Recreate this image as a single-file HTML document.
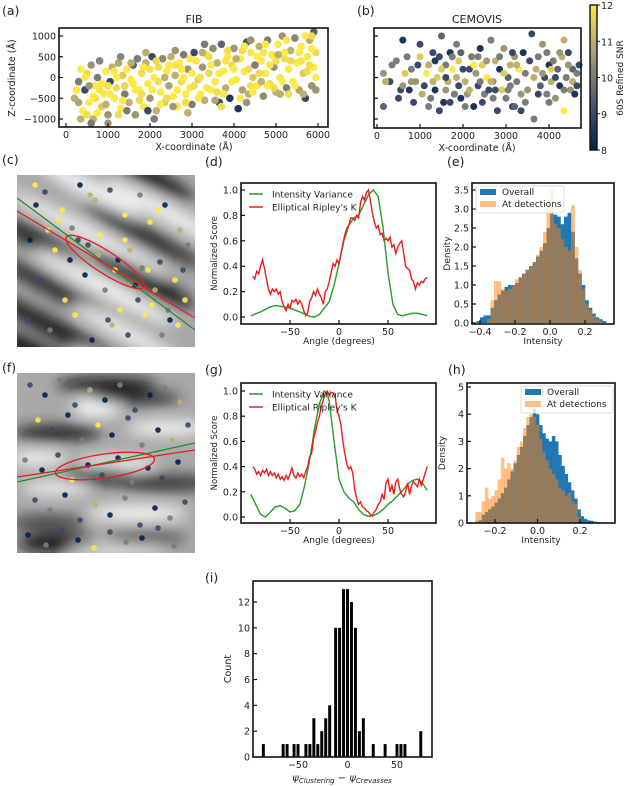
<!DOCTYPE html>
<html><head><meta charset="utf-8">
<style>
html,body{margin:0;padding:0;background:#fff;}
svg{display:block;font-family:"DejaVu Sans","Liberation Sans",sans-serif;}
</style></head>
<body>
<svg id="fig" width="624" height="786" viewBox="0 0 624 786" xmlns="http://www.w3.org/2000/svg">
<defs>
<linearGradient id="cividis" x1="0" y1="1" x2="0" y2="0">
<stop offset="0" stop-color="#00224E"/><stop offset="0.25" stop-color="#3A486B"/><stop offset="0.5" stop-color="#7B7B78"/><stop offset="0.75" stop-color="#BCAF6F"/><stop offset="1" stop-color="#FDE945"/>
</linearGradient>
<filter id="blur" x="-50%" y="-50%" width="200%" height="200%"><feGaussianBlur stdDeviation="7"/></filter>
<clipPath id="clipC"><rect x="17" y="175" width="178" height="172"/></clipPath>
<clipPath id="clipF"><rect x="17" y="373" width="178" height="180"/></clipPath>
</defs>
</svg>
<script>
// ---------- data ----------
const fibX=[200,300,350,400,450,500,550,600,650,700,750,800,850,900,950,1000,1050,1100,1150,1200,1250,1300,1350,1400,1450,1500,1550,1600,1650,1700,1750,1800,1850,1900,1950,2000,2050,2100,2150,2200,2250,2300,2350,2400,2450,2500,2550,2600,2650,2700,2750,2800,2850,2900,2950,3000,3050,3100,3150,3200,3250,3300,3350,3400,3450,3500,3550,3600,3650,3700,3750,3800,3850,3900,3950,4000,4050,4100,4150,4200,4250,4300,4350,4400,4450,4500,4550,4600,4650,4700,4750,4800,4850,4900,4950,5000,5050,5100,5150,5200,5250,5300,5350,5400,5450,5500,5550,5600,5650,5700,5750,5800,5850,5900,5950,5900,5700,5300,4800,4200,3600,3000,2400,1800,1200,700,500,300,1600,2200,2800,3400,4000,4600,5200,5800,1000,1400,2600,3800,4400,5000,5600,800,2000,3200,4700];
const fibZ=[-500,-100,200,-800,-300,100,-600,300,-1000,-200,0,400,-700,-400,150,-900,-100,250,-500,-250,350,-750,50,-400,200,-600,-50,300,-900,450,-300,100,-700,350,-150,-500,500,0,-800,250,-350,450,-600,150,-200,500,-450,50,-700,350,-100,550,-400,200,-250,-650,600,400,-50,-400,250,-550,550,100,-300,700,-100,350,-600,800,150,-250,500,-500,300,700,-50,-750,450,-300,150,850,-400,600,0,300,-200,750,400,-450,100,900,-150,550,250,-350,800,0,1000,450,-250,200,650,-100,950,350,-300,750,100,-500,500,900,-200,250,600,1100,1000,-400,-200,650,-350,100,-500,-400,0,-500,-900,-600,-150,-100,0,500,200,100,600,300,-200,-200,300,400,-200,400,400,-300,200,0,600];
const fibS=[11,10,12,12,9,11.8,12,10.5,11,12,10,10.2,11.5,12,12,10.5,9,11,12,11.8,10.8,12,11.5,10,12,11,12,9.5,10.5,10,12,11.8,12,11,12,10.5,9,12,11,11.8,12,10.3,11.5,12,10.8,11,12,11,12,12,11.8,10,12,10.5,12,10,9,12,11.5,12,10.5,11,12,11.8,12,10.3,12,11,9,9.5,12,11,12,8.5,11.8,10.5,12,8.5,12,10.8,12,9.3,11,12,11.5,10,12,11,12,10.3,12,10,11.8,12,10.5,11,12,12,10.5,11.8,10,12,11,12,10.2,12,10.8,12,11.5,9,12,11,10.5,12,11.8,9.5,12,11.8,12,11.8,11.8,12,11.8,11.8,12,11.8,11.8,10.8,12,11.8,12,11.8,12,11.8,12,11.8,11.9,11.7,11.9,11.9,11.9,11.9,11.9,11.9,11.9,11.9,11.9];
const fibX2=[250,350,450,550,650,750,850,950,1050,1150,1250,1350,1450,1550,1650,1750,1850,1950,2050,2150,2250,2350,2450,2550,2650,2750,2850,2950,3050,3150,3250,3350,3450,3550,3650,3750,3850,3950,4050,4150,4250,4350,4450,4550,4650,4750,4850,4950,5050,5150,5250,5350,5450,5550,5650,5750,5850,5950,5950,5850,4400,3300,2600,1900,1300,600,5100,4300,3700,2900,2100,1000];
const fibZ2=[-300,-1000,0,-200,-450,-850,-150,-650,-400,150,-900,-550,-800,350,-300,-550,250,-800,-300,400,-650,0,300,-700,-300,200,-600,450,-200,-500,600,-250,300,-550,100,-400,650,-100,450,-500,750,200,-350,500,-100,800,300,-250,550,-100,900,400,-200,600,-400,150,700,0,-300,1000,900,800,650,600,500,-1100,-400,-600,-700,-850,-1000,-1100];
const fibS2=[12,11,12,10.5,12,12,12,11,12,12,11.8,12,10,11,12,11.8,12,9,12,11.8,12,11,12,10.5,12,12,11.8,12,11.8,12,11,12,12,10.8,12,12,11.8,12,11,12,12,11.8,12,12,11,12,12,11.8,11,12,12,11.8,12,12,11,11.8,12,12,10.5,11.8,10.5,10,10.5,11,10.2,10,11,10.5,11.8,11,10,10.5];
const cemX=[150,150,300,450,550,600,750,800,900,1000,1000,1100,1200,1250,1300,1350,1400,1450,1500,1550,1600,1650,1700,1750,1800,1850,1900,1950,2000,2050,2100,2200,2250,2300,2350,2400,2450,2500,2550,2600,2650,2700,2750,2800,2850,2900,2950,3000,3050,3100,3150,3200,3250,3300,3350,3400,3450,3500,3600,3650,3700,3750,3800,3850,3900,3950,4000,4050,4100,4150,4200,4250,4300,4350,4350,4400,4450,4500,4550,4600,4650,4700,1350,2150,3100,600,1900,2700];
const cemZ=[-700,100,-100,400,-300,900,-300,200,-100,800,500,-200,300,-500,600,-300,0,-800,1000,-600,300,-100,600,200,-400,800,-200,-500,200,-100,-400,500,-700,100,-200,700,300,-400,0,-300,900,-100,400,-800,200,-300,700,-500,0,300,-700,500,-100,200,-800,600,100,-300,1050,-1000,200,500,-200,800,0,-400,300,-100,400,-500,200,-200,500,-800,900,0,600,-300,200,-400,100,300,400,200,-200,-200,400,-500];
const cemS=[9.5,10.5,9,10,9,8.5,8.5,10,10.5,9,11.5,9,11,10,9,8.5,11.5,9,9.5,8.5,10,11,8.5,12,10,10,9,8.5,9,11,10.5,10,8.5,10.5,9,8.5,11.5,10,12,9,10,10.5,11,9,8.5,11.5,10.5,10,9.5,11,9,10.5,10,12,9,8.5,10,10.5,9,10,11,10,9.5,10.5,9,10,8.5,11,10,10.5,9.5,8.5,11,12,11,10,9,10.5,9.5,8.5,10,9,8.5,9,10,10.5,11.5,10];
const cemX2=[200,350,500,650,700,850,950,1050,1150,1200,1300,1450,1500,1600,1700,1750,1850,1950,2050,2150,2250,2350,2450,2550,2650,2750,2850,2950,3050,3150,3250,3350,3450,3550,3650,3750,3850,3950,4050,4150,4250,4350,4450,4550,4650,4000,3200,2400,1600,800];
const cemZ2=[-100,300,-500,100,500,-600,300,-400,100,-700,-100,500,200,-300,-600,500,0,600,-700,-300,300,500,-600,400,-100,-300,500,100,-300,600,300,-400,-600,400,0,-400,100,600,200,0,600,-300,300,-100,-200,-600,-700,-100,0,-100];
const cemS2=[11,10,9,11.5,10,9,9,11,12,10,11,9,11.5,10.5,9,10,11,9.5,10,11,12,10,9,10.5,11,9,10,11.5,10,9,11,10.5,10,9,11,9,10.5,10,11.5,9,10.5,10,10.5,11,9,10,9.5,10,9,10.5];
const xTicksA=[0,1000,2000,3000,4000,5000,6000];
const xTicksB=[0,1000,2000,3000,4000];
const zTicks=[1000,500,0,-500,-1000];
const cbTicks=[8,9,10,11,12];

const angTicks=[-50,0,50];
const scoreTicks=[0.0,0.2,0.4,0.6,0.8,1.0];
const dGreenA=[-90,-80,-70,-65,-60,-50,-40,-30,-25,-20,-10,-5,0,5,10,15,20,25,30,35,40,45,50,55,60,65,70,75,80,85,90];
const dGreenV=[0.01,0.04,0.08,0.09,0.085,0.07,0.04,0.005,0.0,0.02,0.12,0.25,0.42,0.6,0.72,0.78,0.8,0.88,0.96,1.0,0.95,0.7,0.35,0.1,0.02,0.01,0.02,0.03,0.03,0.02,0.01];
const dRedA=[-88,-86,-84,-82,-80,-78,-76,-74,-72,-70,-68,-66,-64,-62,-60,-58,-56,-54,-52,-50,-48,-46,-44,-42,-40,-38,-36,-34,-32,-30,-28,-26,-24,-22,-20,-18,-16,-14,-12,-10,-8,-6,-4,-2,0,2,4,6,8,10,12,14,16,18,20,22,24,26,28,30,32,34,36,38,40,42,44,46,48,50,52,54,56,58,60,62,64,66,68,70,72,74,76,78,80,82,84,86,88,90];
const dRedV=[0.32,0.3,0.36,0.34,0.4,0.45,0.38,0.3,0.22,0.18,0.22,0.2,0.22,0.18,0.2,0.12,0.08,0.05,0.1,0.07,0.13,0.12,0.14,0.1,0.13,0.1,0.05,0.01,0.03,0.12,0.15,0.2,0.17,0.22,0.18,0.15,0.1,0.2,0.22,0.28,0.35,0.42,0.4,0.45,0.42,0.5,0.58,0.65,0.7,0.72,0.78,0.78,0.76,0.8,0.78,0.9,0.95,0.92,0.98,1.0,0.92,0.82,0.75,0.7,0.72,0.65,0.66,0.6,0.62,0.6,0.63,0.55,0.57,0.5,0.55,0.58,0.6,0.5,0.4,0.38,0.37,0.3,0.28,0.22,0.27,0.25,0.28,0.27,0.3,0.31];
const gGreenA=[-90,-85,-80,-75,-70,-65,-60,-55,-50,-45,-40,-35,-30,-25,-20,-15,-12,-10,-5,0,5,10,15,20,25,30,35,40,45,50,55,60,65,70,75,80,85,90];
const gGreenV=[0.18,0.1,0.02,0.0,0.04,0.08,0.09,0.07,0.04,0.05,0.1,0.25,0.45,0.7,0.9,1.0,0.98,0.92,0.6,0.3,0.2,0.15,0.12,0.06,0.02,0.005,0.01,0.03,0.06,0.1,0.13,0.17,0.21,0.26,0.29,0.3,0.27,0.21];
const gRedA=dRedA;
const gRedV=[0.4,0.38,0.34,0.36,0.33,0.37,0.35,0.38,0.33,0.36,0.33,0.35,0.31,0.34,0.3,0.32,0.29,0.33,0.3,0.34,0.39,0.33,0.31,0.35,0.32,0.34,0.31,0.36,0.4,0.48,0.5,0.62,0.68,0.75,0.8,0.88,0.93,0.98,1.0,0.97,0.99,0.98,0.96,0.85,0.8,0.73,0.6,0.5,0.42,0.38,0.4,0.35,0.22,0.15,0.1,0.12,0.08,0.07,0.05,0.04,0.02,0.01,0.04,0.06,0.1,0.12,0.18,0.14,0.27,0.3,0.2,0.25,0.18,0.28,0.3,0.22,0.18,0.16,0.2,0.27,0.18,0.25,0.28,0.26,0.24,0.3,0.25,0.3,0.35,0.4];

const eBins=[-0.41,-0.39,-0.37,-0.35,-0.33,-0.31,-0.29,-0.27,-0.25,-0.23,-0.21,-0.19,-0.17,-0.15,-0.13,-0.11,-0.09,-0.07,-0.05,-0.03,-0.01,0.01,0.03,0.05,0.07,0.09,0.11,0.13,0.15,0.17,0.19,0.21,0.23,0.25,0.27,0.29,0.31];
const eBlue=[0.05,0.15,0.2,0.2,0.4,0.6,0.75,0.85,0.95,1.0,1.0,1.05,1.2,1.3,1.4,1.5,1.6,1.75,1.9,2.1,2.5,2.9,2.85,2.8,2.6,2.8,2.9,2.4,1.7,1.3,1.0,0.6,0.4,0.25,0.15,0.1,0.05];
const eOrange=[0,0,0,0.1,0.6,1.1,1.1,0.9,0.85,0.9,1.0,1.15,1.2,1.3,1.4,1.5,1.6,1.8,2.0,2.4,3.0,3.5,2.6,2.5,2.2,2.0,1.9,3.1,2.0,1.4,0.9,0.5,0.35,0.2,0.1,0.05,0];
const eXTicks=[-0.4,-0.2,0.0,0.2];
const eYTicks=[0.0,0.5,1.0,1.5,2.0,2.5,3.0,3.5];
const hBins=[-0.3,-0.285,-0.27,-0.255,-0.24,-0.225,-0.21,-0.195,-0.18,-0.165,-0.15,-0.135,-0.12,-0.105,-0.09,-0.075,-0.06,-0.045,-0.03,-0.015,0,0.015,0.03,0.045,0.06,0.075,0.09,0.105,0.12,0.135,0.15,0.165,0.18,0.195,0.21,0.225,0.24,0.255,0.27,0.285,0.3,0.315];
const hBlue=[0.02,0.05,0.1,0.3,0.4,0.5,0.6,0.75,0.9,1.1,1.3,1.6,1.9,2.2,2.5,2.8,3.2,3.6,3.9,4.2,4.0,3.6,3.3,3.1,3.0,3.2,3.0,2.5,2.1,1.8,1.5,1.2,0.9,0.5,0.25,0.15,0.1,0.08,0.05,0.03,0.02,0.01];
const hOrange=[0,0.4,0.4,0.8,1.3,0.9,1.0,1.2,1.6,2.4,2.0,2.2,2.0,2.3,2.8,3.0,3.5,3.9,4.0,3.9,3.6,3.1,2.6,2.3,2.0,1.8,1.6,1.3,1.2,1.0,1.1,0.8,0.7,0.2,0,0,0,0,0,0,0,0];
const hXTicks=[-0.2,0.0,0.2];
const hYTicks=[0,1,2,3,4,5];
const iCenters=[-85,-65,-61,-54,-50,-42,-38,-34,-30,-26,-22,-18,-12,-8,-4,0,4,8,12,16,26,38,50,54,58,74];
const iCounts=[1,1,1,1,1,1,1,3,1,2,3,4,10,10,13,13,12,10,2,3,1,1,1,1,1,2];
const iXTicks=[-50,0,50];
const iYTicks=[0,2,4,6,8,10,12];

// decorative detections over images (panel coords)
const cDotX=[35,45,62,80,95,110,125,140,150,165,180,30,55,72,88,100,118,130,148,160,175,188,40,65,85,105,120,138,155,170,185,28,50,75,92,112,128,145,162,178,36,58,78,98,115,135,152,168,183,48,70,90,108,125,142,158];
const cDotY=[185,192,210,185,200,190,215,195,222,205,230,240,250,228,245,235,260,250,270,262,280,245,280,300,275,290,310,300,290,320,300,320,330,315,340,325,335,315,335,325,205,220,240,255,270,285,305,310,270,230,260,195,320,240,268,210];
const cDotS=[12,9,12,8,11,9,12,10,12,8,11,8,12,10,9,12,8,11,12,9,12,10,9,12,8,10,12,9,11,8,12,9,10,12,8,11,9,12,10,12,8,12,9,11,12,8,12,10,9,12,8,11,9,12,10,12];
const fDotX=[30,45,60,75,90,105,120,135,150,165,180,38,52,68,82,98,112,128,142,158,172,188,25,42,58,72,88,102,118,132,148,162,178,35,50,65,80,95,110,125,140,155,170,185,28,46,62,78,94,110,126,142,158,174];
const fDotY=[385,395,380,405,390,400,385,410,395,388,402,420,430,415,440,425,435,418,445,430,440,425,460,470,455,480,465,475,458,482,468,478,462,500,510,495,520,505,515,498,525,508,518,502,535,545,530,540,548,532,542,538,528,546];
const fDotS=[9,8,10,9,11,8,10,9,8,10,11,12,9,8,10,12,8,9,10,8,11,9,10,8,9,12,8,9,8,10,8,9,8,9,10,8,9,11,8,10,9,8,10,9,8,10,9,8,12,9,10,8,9,10];

const fibAllX=fibX.concat(fibX2), fibAllZ=fibZ.concat(fibZ2), fibAllS=fibS.concat(fibS2);
const cemAllX=cemX.concat(cemX2), cemAllZ=cemZ.concat(cemZ2), cemAllS=cemS.concat(cemS2);

// ---------- helpers ----------
const NS="http://www.w3.org/2000/svg";
const svg=document.getElementById('fig');
function mk(tag,parent){const e=document.createElementNS(NS,tag);(parent||svg).appendChild(e);return e;}
function lin(d0,d1,r0,r1){return v=>r0+(v-d0)*(r1-r0)/(d1-d0);}
function cividis(s){
  const t=Math.max(0,Math.min(1,(s-8)/4));
  const st=[[0,0,34,78],[0.25,58,72,107],[0.5,123,123,120],[0.75,188,175,111],[1,253,233,69]];
  for(let i=0;i<st.length-1;i++){if(t<=st[i+1][0]){const a=st[i],b=st[i+1],f=(t-a[0])/(b[0]-a[0]);
    return `rgb(${Math.round(a[1]+f*(b[1]-a[1]))},${Math.round(a[2]+f*(b[2]-a[2]))},${Math.round(a[3]+f*(b[3]-a[3]))})`;}}
  return 'rgb(253,233,69)';
}
function text(str,x,y,size,anchor,parent,rot){
  const t=mk('text',parent);t.setAttribute('x',x);t.setAttribute('y',y);t.setAttribute('font-size',size);
  t.setAttribute('text-anchor',anchor||'middle');t.setAttribute('fill','#222');
  if(rot){t.setAttribute('transform',`rotate(${rot} ${x} ${y})`);}
  t.textContent=str;return t;
}
function frame(x0,y0,x1,y1,name){
  const r=mk('rect');r.setAttribute('x',x0);r.setAttribute('y',y0);r.setAttribute('width',x1-x0);r.setAttribute('height',y1-y0);
  r.setAttribute('fill','none');r.setAttribute('stroke','#111');r.setAttribute('stroke-width','1.6');
  
  
}
function xTicks(ticks,sx,yb,fmt,name,showLabels){
  const g=mk('g');
  
  
  ticks.forEach(v=>{const x=sx(v);const l=mk('line',g);l.setAttribute('x1',x);l.setAttribute('x2',x);l.setAttribute('y1',yb);l.setAttribute('y2',yb-4);l.setAttribute('stroke','#111');l.setAttribute('stroke-width','1.2');
    if(showLabels!==false){text(fmt(v),x,yb+11,9.5,'middle',g);}});
}
function yTicks(ticks,sy,xl,fmt,name,showLabels){
  const g=mk('g');
  
  
  ticks.forEach(v=>{const y=sy(v);const l=mk('line',g);l.setAttribute('x1',xl);l.setAttribute('x2',xl+4);l.setAttribute('y1',y);l.setAttribute('y2',y);l.setAttribute('stroke','#111');l.setAttribute('stroke-width','1.2');
    if(showLabels!==false){text(fmt(v),xl-3,y+3.5,9.5,'end',g);}});
}
const neg=s=>String(s).replace('-','\u2212');
const f0=v=>neg(v);
const f1=v=>neg(v.toFixed(1));

// ---------- labels ----------
[['(a)',2,15],['(b)',357,15],['(c)',2,164],['(d)',205,166],['(e)',447,166],['(f)',2,372],['(g)',205,374],['(h)',448,374],['(i)',205,582]].forEach(p=>{
  const t=text(p[0],p[1],p[2],12.5,'start');
  
  
});

// ---------- panel a ----------
(function(){
  const sx=lin(0,6000,66,318), sy=lin(-1000,1000,119,36);
  const g=mk('g');
  
  
  for(let i=0;i<fibAllX.length;i++){const c=mk('circle',g);c.setAttribute('cx',sx(fibAllX[i]));c.setAttribute('cy',sy(fibAllZ[i]));c.setAttribute('r',3.8);c.setAttribute('fill',cividis(fibAllS[i]));
    
    }
  frame(59,28,328,127,'fib-axes');
  xTicks(xTicksA,sx,127,f0,'fib-x-ticks');
  yTicks(zTicks,sy,59,f0,'fib-y-ticks');
  const t1=text('FIB',194,23,11);
  const t2=text('X-coordinate (Å)',194,150,9.5);
  const t3=text('Z-coordinate (Å)',15,78,9.5,'middle',null,-90);
})();
// ---------- panel b ----------
(function(){
  const sx=lin(0,4000,377,549), sy=lin(-1000,1000,119,36);
  const g=mk('g');
  
  
  for(let i=0;i<cemAllX.length;i++){const c=mk('circle',g);c.setAttribute('cx',sx(cemAllX[i]));c.setAttribute('cy',sy(cemAllZ[i]));c.setAttribute('r',3.5);c.setAttribute('fill',cividis(cemAllS[i]));
    
    }
  frame(374,28,581,128,'cemovis-axes');
  xTicks(xTicksB,sx,128,f0,'cemovis-x-ticks');
  yTicks(zTicks,sy,374,f0,'cemovis-y-ticks',false);
  const t1=text('CEMOVIS',477,23,11);
  const t2=text('X-coordinate (Å)',477,151,9.5);
  // colorbar
  const r=mk('rect');r.setAttribute('x',590);r.setAttribute('y',5);r.setAttribute('width',7);r.setAttribute('height',145);r.setAttribute('fill','url(#cividis)');r.setAttribute('stroke','#111');r.setAttribute('stroke-width','1.4');
  
  
  const scb=lin(8,12,150,5);
  cbTicks.forEach(v=>{const l=mk('line');l.setAttribute('x1',597);l.setAttribute('x2',600);l.setAttribute('y1',scb(v));l.setAttribute('y2',scb(v));l.setAttribute('stroke','#111');
    const t=text(String(v),601,scb(v)+4,9.5,'start');});
  const t3=text('60S Refined SNR',623,78,9,'middle',null,-90);
})();

// ---------- images c, f ----------
function tomo(clip,x0,y0,w,h,angle,bands,name){
  const g=mk('g');g.setAttribute('clip-path',`url(#${clip})`);
  
  
  const bg=mk('rect',g);bg.setAttribute('x',x0);bg.setAttribute('y',y0);bg.setAttribute('width',w);bg.setAttribute('height',h);bg.setAttribute('fill','#a9a9a9');
  const b=mk('g',g);b.setAttribute('filter','url(#blur)');b.setAttribute('transform',`rotate(${angle} ${x0+w/2} ${y0+h/2})`);
  bands.forEach(e=>{const el=mk('ellipse',b);el.setAttribute('cx',x0+e[0]);el.setAttribute('cy',y0+e[1]);el.setAttribute('rx',e[2]);el.setAttribute('ry',e[3]);el.setAttribute('fill',e[4]);});
  return g;
}
const gc=tomo('clipC',17,175,178,172,28,[[60,-10,80,10,'#222'],[120,15,70,9,'#eee'],[40,30,60,9,'#f2f2f2'],[110,45,70,9,'#333'],[60,70,90,8,'#eee'],[130,85,60,10,'#1a1a1a'],[20,100,50,10,'#2a2a2a'],[100,110,80,9,'#f0f0f0'],[50,135,70,9,'#333'],[140,140,60,8,'#eee'],[80,170,90,10,'#222'],[150,180,50,9,'#eee'],[90,200,80,10,'#111']],'tomogram-c');
const gf=tomo('clipF',17,373,178,180,0,[[90,12,50,7,'#111'],[80,35,25,8,'#fff'],[40,60,45,8,'#222'],[150,55,40,8,'#f0f0f0'],[120,25,45,7,'#333'],[20,85,30,8,'#eee'],[100,90,40,7,'#eee'],[80,103,35,8,'#111'],[150,110,50,8,'#333'],[40,115,35,7,'#eee'],[120,140,50,8,'#f5f5f5'],[30,150,40,8,'#444'],[40,170,40,9,'#111'],[130,165,40,7,'#555'],[100,178,50,7,'#ddd']],'tomogram-f');
function dots(g,X,Y,S){for(let i=0;i<X.length;i++){const c=mk('circle',g);c.setAttribute('cx',X[i]);c.setAttribute('cy',Y[i]);c.setAttribute('r',2.8);c.setAttribute('fill',cividis(S[i]));c.setAttribute('opacity','0.9');
  
  }}
dots(gc,cDotX,cDotY,cDotS);dots(gf,fDotX,fDotY,fDotS);
function overlay(g,green,red,ell){
  const l1=mk('line',g);l1.setAttribute('x1',green[0]);l1.setAttribute('y1',green[1]);l1.setAttribute('x2',green[2]);l1.setAttribute('y2',green[3]);l1.setAttribute('stroke','#2a8a2a');l1.setAttribute('stroke-width','1.3');
  
  
  const l2=mk('line',g);l2.setAttribute('x1',red[0]);l2.setAttribute('y1',red[1]);l2.setAttribute('x2',red[2]);l2.setAttribute('y2',red[3]);l2.setAttribute('stroke','#e02020');l2.setAttribute('stroke-width','1.3');
  
  
  const e=mk('ellipse',g);e.setAttribute('cx',ell[0]);e.setAttribute('cy',ell[1]);e.setAttribute('rx',ell[2]);e.setAttribute('ry',ell[3]);e.setAttribute('transform',`rotate(${ell[4]} ${ell[0]} ${ell[1]})`);e.setAttribute('fill','none');e.setAttribute('stroke','#e02020');e.setAttribute('stroke-width','1.3');
  
  
}
overlay(gc,[17,198,195,330],[17,211,195,318],[105,262,46,11,33]);
overlay(gf,[17,482,195,443],[17,477,195,450],[105,466,50,12,-8]);

// ---------- line panels d, g ----------
function linePanel(x0,y0,x1,y1,yTop,yBot,gA,gV,rA,rV,prefix){
  const sx=lin(-50,50,290,388), sy=lin(0,1,yBot,yTop);
  frame(x0,y0,x1,y1,prefix+'-axes');
  xTicks(angTicks,sx,y1,f0,prefix+'-x-ticks');
  yTicks(scoreTicks,sy,x0,f1,prefix+'-y-ticks');
  const pg=mk('polyline');pg.setAttribute('points',gA.map((a,i)=>sx(a)+','+sy(gV[i])).join(' '));pg.setAttribute('fill','none');pg.setAttribute('stroke','#2a9a2a');pg.setAttribute('stroke-width','1.4');
  
  
  const pr=mk('polyline');pr.setAttribute('points',rA.map((a,i)=>sx(a)+','+sy(rV[i])).join(' '));pr.setAttribute('fill','none');pr.setAttribute('stroke','#ee1c1c');pr.setAttribute('stroke-width','1.4');
  
  
  const lg=mk('g');
  
  
  const ly=y0+11;
  [['Intensity Variance','#2a9a2a'],["Elliptical Ripley's K",'#ee1c1c']].forEach((e,i)=>{
    const l=mk('line',lg);l.setAttribute('x1',x0+8);l.setAttribute('x2',x0+22);l.setAttribute('y1',ly+i*13);l.setAttribute('y2',ly+i*13);l.setAttribute('stroke',e[1]);l.setAttribute('stroke-width','1.5');
    text(e[0],x0+31,ly+i*13+3.5,9,'start',lg);
  });
  const t=text('Angle (degrees)',339,y1+20,9);
  const t2=text('Normalized Score',217,(y0+y1)/2,8.5,'middle',null,-90);
}
linePanel(241,183,436,324,190,317,dGreenA,dGreenV,dRedA,dRedV,'d');
linePanel(241,383,436,523,391,517,gGreenA,gGreenV,gRedA,gRedV,'g');

// ---------- histogram panels e, h ----------
function histPanel(x0,y0,x1,y1,sx,sy,bins,bw,blue,orange,xt,yt,yfmt,prefix,legX,legW){
  const g=mk('g');
  
  
  [[blue,'#1f77b4',1,'overall'],[orange,'#ff7f0e',0.5,'detections']].forEach(s=>{
    bins.forEach((c,i)=>{const v=s[0][i];if(!v)return;const r=mk('rect',g);const xa=sx(c-bw/2),xb=sx(c+bw/2);
      r.setAttribute('x',xa);r.setAttribute('width',xb-xa+0.3);r.setAttribute('y',sy(v));r.setAttribute('height',sy(0)-sy(v));r.setAttribute('fill',s[1]);r.setAttribute('fill-opacity',s[2]);
      
      });
  });
  frame(x0,y0,x1,y1,prefix+'-axes');
  xTicks(xt,sx,y1,f1,prefix+'-x-ticks');
  yTicks(yt,sy,x0,yfmt,prefix+'-y-ticks');
  const lg=mk('g');
  
  
  const bgr=mk('rect',lg);bgr.setAttribute('x',legX);bgr.setAttribute('y',y0+3);bgr.setAttribute('width',legW);bgr.setAttribute('height',27);bgr.setAttribute('fill','#fff');bgr.setAttribute('fill-opacity','0.8');bgr.setAttribute('stroke','#ddd');bgr.setAttribute('rx',2);
  [['Overall','#1f77b4',1],['At detections','#ff7f0e',0.5]].forEach((e,i)=>{
    const r=mk('rect',lg);r.setAttribute('x',legX+4);r.setAttribute('y',y0+6+i*12);r.setAttribute('width',16);r.setAttribute('height',6);r.setAttribute('fill',e[1]);r.setAttribute('fill-opacity',e[2]);
    text(e[0],legX+26,y0+12+i*12,9,'start',lg);
  });
  const t=text('Intensity',(x0+x1)/2,y1+20,9);
  const t2=text('Density',x0-22,(y0+y1)/2,9,'middle',null,-90);
}
histPanel(472,183,614,324,lin(-0.4,0.2,480,585),lin(0,3.5,323,190),eBins,0.02,eBlue,eOrange,eXTicks,eYTicks,f1,'e',476,88);
histPanel(467,383,615,523,lin(-0.2,0.2,495,580),lin(0,5,523,387),hBins,0.015,hBlue,hOrange,hXTicks,hYTicks,f0,'h',521,92);

// ---------- panel i ----------
(function(){
  const sx=lin(-50,50,298,397), sy=lin(0,12,757,602);
  const g=mk('g');
  
  
  iCenters.forEach((c,i)=>{const r=mk('rect',g);const xa=sx(c-2),xb=sx(c+2);
    r.setAttribute('x',xa+0.5);r.setAttribute('width',xb-xa-1);r.setAttribute('y',sy(iCounts[i]));r.setAttribute('height',sy(0)-sy(iCounts[i]));r.setAttribute('fill','#000');
    
    });
  frame(253,581,432,757,'i-axes');
  xTicks(iXTicks,sx,757,f0,'i-x-ticks');
  yTicks(iYTicks,sy,253,f0,'i-y-ticks');
  const t2=text('Count',231,669,9.5,'middle',null,-90);
  const t=mk('text');t.setAttribute('x',342);t.setAttribute('y',781);t.setAttribute('text-anchor','middle');t.setAttribute('font-size','10');t.setAttribute('fill','#222');t.setAttribute('font-style','italic');
  
  
  t.innerHTML='ψ<tspan font-size="7" dy="2">Clustering</tspan><tspan dy="-2"> − ψ</tspan><tspan font-size="7" dy="2">Crevasses</tspan>';
})();
</script>
</body></html>
